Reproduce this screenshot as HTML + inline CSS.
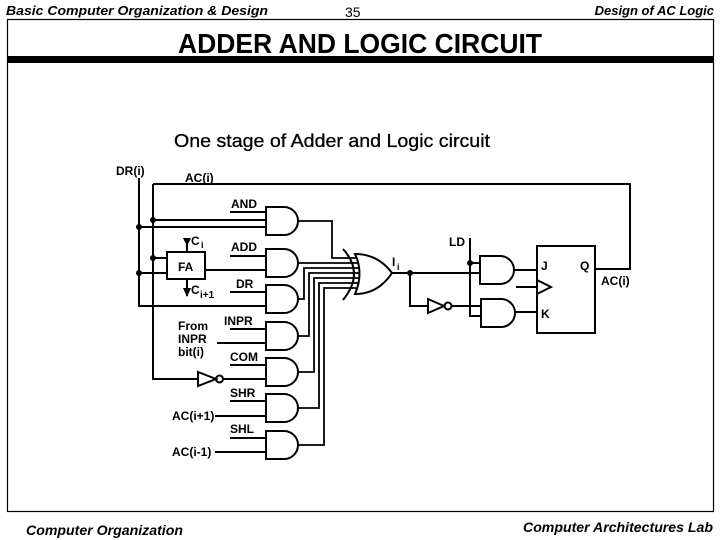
<!DOCTYPE html>
<html><head><meta charset="utf-8"><style>
html,body{margin:0;padding:0;background:#fff;}
svg{display:block;font-family:"Liberation Sans",Arial,sans-serif;}
</style></head><body>
<svg width="720" height="540" viewBox="0 0 720 540" xmlns="http://www.w3.org/2000/svg">
<text x="6" y="15" font-size="13" font-weight="bold" font-style="italic" textLength="262" lengthAdjust="spacingAndGlyphs">Basic Computer Organization &amp; Design</text>
<text x="345" y="17" font-size="14">35</text>
<text x="714" y="15" font-size="13" font-weight="bold" font-style="italic" text-anchor="end">Design of AC Logic</text>
<rect x="7.5" y="19.5" width="706" height="492" fill="none" stroke="#000" stroke-width="1.2"/>
<rect x="7" y="56" width="707" height="7" fill="#000"/>
<text x="178" y="53" font-size="28" font-weight="bold" textLength="364" lengthAdjust="spacingAndGlyphs">ADDER  AND  LOGIC  CIRCUIT</text>
<text x="174" y="147" font-size="18" textLength="316" lengthAdjust="spacingAndGlyphs" stroke="#000" stroke-width="0.3">One stage of Adder and Logic circuit</text>
<text x="26" y="535" font-size="14" font-style="italic" font-weight="bold" textLength="157" lengthAdjust="spacingAndGlyphs">Computer Organization</text>
<text x="523" y="532" font-size="14" font-style="italic" font-weight="bold" textLength="190" lengthAdjust="spacingAndGlyphs">Computer Architectures Lab</text>

<g fill="none" stroke="#000" stroke-width="2">
<path d="M139,178 V306 H266"/>
<path d="M153,184 H630 V269 H595"/>
<path d="M153,184 V379 H198"/>
<path d="M153,220 H266 M139,227 H266"/>
<rect x="167" y="252" width="38" height="27"/>
<path d="M153,258 H167 M139,273 H167 M205,270 H266"/>
<path d="M187,238 V252 M187,279 V296"/>
<path d="M230,212 H266 M230,256 H266 M230,292 H266 M230,329 H266 M230,365 H266 M230,401 H266 M230,438 H266"/>
<path d="M217,343 H266 M223,379 H266 M215,416 H266 M215,452 H266"/>
<path d="M198,372 L216,379 L198,386 Z"/>
<circle cx="219.5" cy="379" r="3.5"/>
<path d="M266,207 h18 a14,14 0 0 1 0,28 h-18 z"/>
<path d="M266,249 h18 a14,14 0 0 1 0,28 h-18 z"/>
<path d="M266,285 h18 a14,14 0 0 1 0,28 h-18 z"/>
<path d="M266,322 h18 a14,14 0 0 1 0,28 h-18 z"/>
<path d="M266,358 h18 a14,14 0 0 1 0,28 h-18 z"/>
<path d="M266,394 h18 a14,14 0 0 1 0,28 h-18 z"/>
<path d="M266,431 h18 a14,14 0 0 1 0,28 h-18 z"/>
<g stroke-width="1.8">
<path d="M298,221 H332 V258 H356"/>
<path d="M298,263 H358"/>
<path d="M298,299 H304 V268 H359"/>
<path d="M298,336 H309 V273 H359"/>
<path d="M298,372 H314 V278 H359"/>
<path d="M298,408 H319 V283 H358"/>
<path d="M298,445 H324 V288 H356"/>
</g>
<path d="M343,249 Q365,273 343,300"/>
<path d="M355,254 Q378,254 392,273 Q378,294 355,294 Q364,273 355,254 Z"/>
<path d="M392,273 H480"/>
<path d="M410,273 V306 H428"/>
<path d="M428,299 L444,306 L428,313 Z"/>
<circle cx="448" cy="306" r="3.5"/>
<path d="M452,306 H481"/>
<path d="M470,238 V316 H481 M470,263 H480"/>
<path d="M480,256 h20 a14,14 0 0 1 0,28 h-20 z"/>
<path d="M481,299 h20 a14,14 0 0 1 0,28 h-20 z"/>
<path d="M514,270 H537 M515,312 H537"/>
<rect x="537" y="246" width="58" height="87"/>
<path d="M537,280 L551,287 L537,294"/>
<path d="M516,287 H537"/>
</g>
<g fill="#000">
<circle cx="139" cy="227" r="3"/><circle cx="153" cy="220" r="3"/>
<circle cx="153" cy="258" r="3"/><circle cx="139" cy="273" r="3"/>
<circle cx="410" cy="273" r="3"/><circle cx="470" cy="263" r="3"/>
<path d="M183,238 L191,238 L187,246 Z"/>
<path d="M183,288 L191,288 L187,297 Z"/>
</g>
<g font-size="12" font-weight="bold">
<text x="116" y="175">DR(i)</text>
<text x="185" y="182">AC(i)</text>
<text x="231" y="208">AND</text>
<text x="191" y="245">C</text><text x="201" y="248" font-size="9">i</text>
<text x="178" y="271">FA</text>
<text x="231" y="251">ADD</text>
<text x="191" y="294">C</text><text x="200" y="298" font-size="10">i+1</text>
<text x="236" y="288">DR</text>
<text x="224" y="325">INPR</text>
<text x="178" y="330">From</text>
<text x="178" y="343">INPR</text>
<text x="178" y="356">bit(i)</text>
<text x="230" y="361">COM</text>
<text x="230" y="397">SHR</text>
<text x="172" y="420">AC(i+1)</text>
<text x="230" y="433">SHL</text>
<text x="172" y="456">AC(i-1)</text>
<text x="392" y="266">I</text><text x="397" y="270" font-size="9">i</text>
<text x="449" y="246">LD</text>
<text x="541" y="270">J</text>
<text x="580" y="270">Q</text>
<text x="541" y="318">K</text>
<text x="601" y="285">AC(i)</text>
</g>
</svg>
</body></html>
